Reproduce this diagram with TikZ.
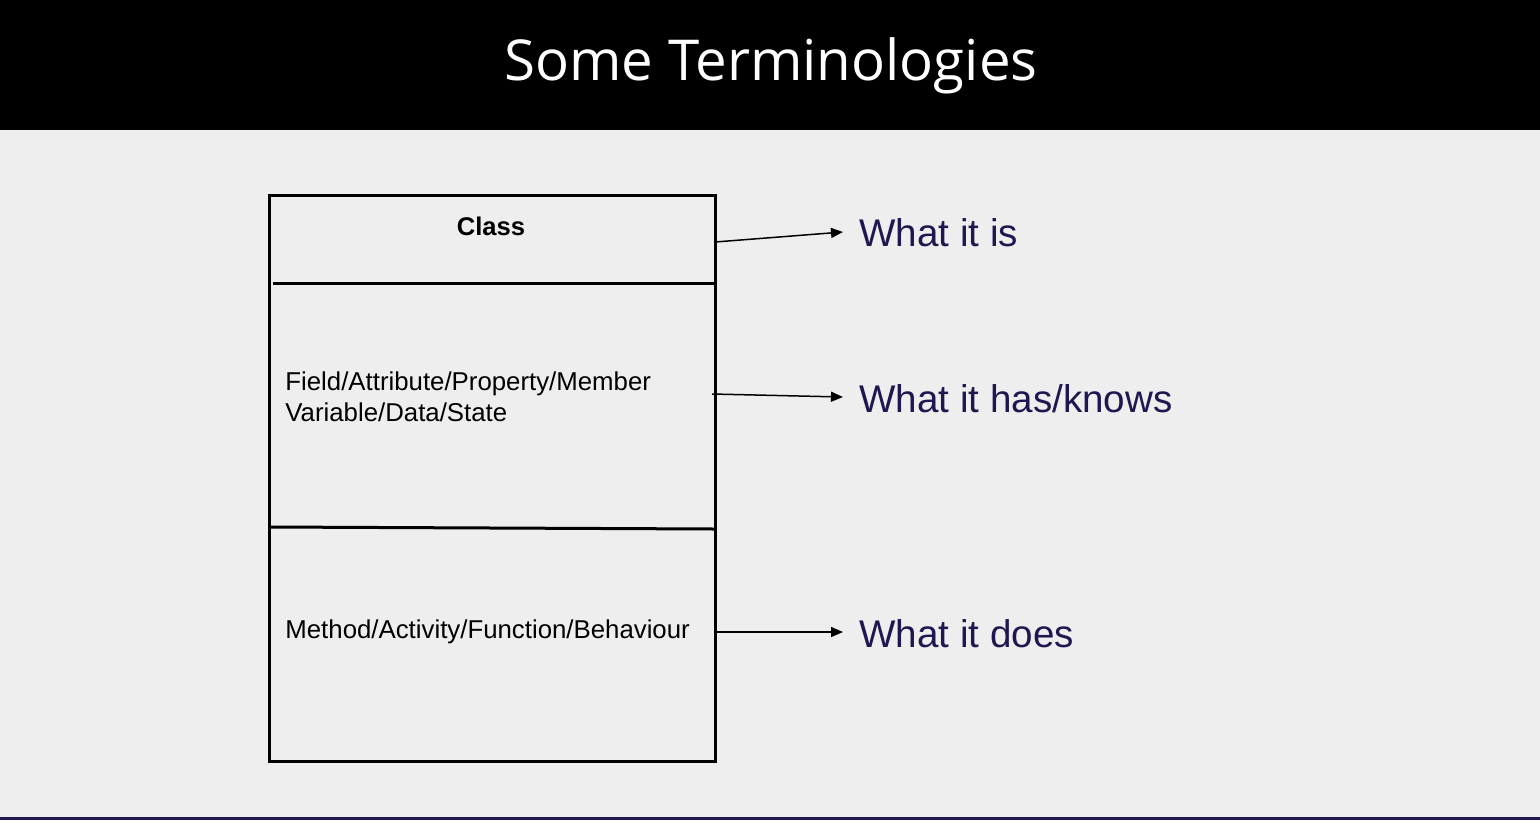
\documentclass[tikz,border=0pt]{standalone}
\usepackage{fontspec}
\setmainfont{Liberation Sans}
\newfontfamily\titlefont{Open Sans}
\usetikzlibrary{arrows.meta, positioning, calc}
\definecolor{SlideGray}{RGB}{238,238,238}
\definecolor{DeepNavy}{RGB}{32,22,80}

\begin{document}
\begin{tikzpicture}[x=0.5pt,y=-0.5pt,
        frame/.style={draw=black,line width=1.5pt},
        divider/.style={draw=black,line width=1.5pt},
        term/.style={font=\fontsize{19.3}{23}\selectfont,text=DeepNavy,
                     anchor=west,inner xsep=8pt,inner ysep=0pt},
        body/.style={font=\fontsize{12.9}{15.5}\selectfont,align=left,
                     anchor=base west,inner sep=0pt},
        pointer/.style={-{Triangle[length=6pt,width=5pt]},line width=0.75pt}
      ]
        % background and header band
        \fill[SlideGray] (0,0) rectangle (1540,820);
        \fill[black] (0,0) rectangle (1540,130);
        \fill[DeepNavy] (0,817) rectangle (1540,820);
        \useasboundingbox (0,0) rectangle (1540,820);
        \node[text=white,anchor=base,font=\titlefont\fontsize{28.2}{34}\selectfont]
          (title) at (771,80) {Some Terminologies};

        % the class box
        \draw[frame] (269,195) rectangle (715,761);
        \draw[divider] (273,283) -- (715,283);
        \draw[divider] (270,527) -- (715,529);
        \node[font=\bfseries\fontsize{12.8}{15}\selectfont] (cls) at (491,226) {Class};
        \node[body] (fields) at (285,421)
          {Field/Attribute/Property/Member\\Variable/Data/State};
        \node[body] (methods) at (285,638)
          {Method/Activity/Function/Behaviour};

        % terms on the right
        \node[term] (isTerm) at (843,233) {What it is};
        \node[term] (hasTerm) at (843,399) {What it has/knows};
        \node[term] (doesTerm) at (843,634) {What it does};

        \coordinate (isStart) at (715,242);
        \coordinate (hasStart) at (712,394);
        \coordinate (doesStart) at (717,632);
        \draw[pointer] (isStart) -- ($(isTerm.west)+(0,-1)$);
        \draw[pointer] (hasStart) -- ($(hasTerm.west)+(0,-2)$);
        \draw[pointer] (doesStart) -- ($(doesTerm.west)+(0,-2)$);
      \end{tikzpicture}
\end{document}
